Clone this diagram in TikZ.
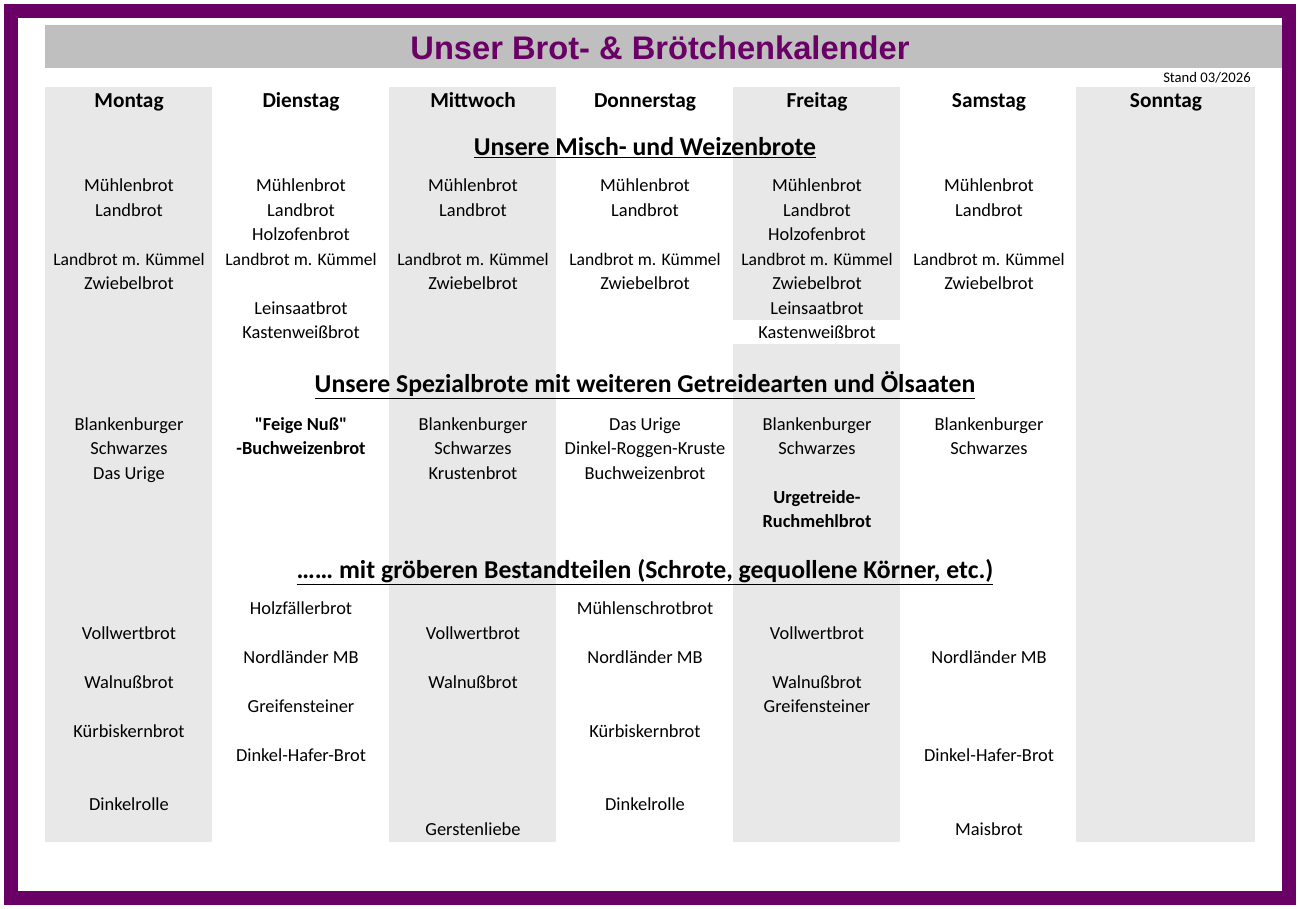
\documentclass[tikz,border=0pt]{standalone}
\usepackage{fontspec}
\setmainfont{Carlito}
\newfontfamily\titlefont{Liberation Sans}
\definecolor{frame}{HTML}{6A0066}
\definecolor{colgray}{HTML}{E8E8E8}
\definecolor{bargray}{HTML}{BFBFBF}
\tikzset{
 cell/.style={font=\fontsize{13.8}{16}\selectfont, inner sep=0pt, anchor=center, text height=0.72em, text depth=0.22em, yshift=-2.25pt},
 small/.style={cell, font=\fontsize{13.2}{15}\selectfont},
 bcell/.style={cell, font=\fontsize{13.8}{16}\selectfont\bfseries},
 day/.style={font=\fontsize{16}{19}\selectfont\bfseries, inner sep=0pt, text height=0.72em, text depth=0.22em, yshift=-2.25pt},
 sect/.style={font=\fontsize{19.3}{22}\selectfont\bfseries, inner sep=0pt, text height=0.72em, text depth=0.22em, yshift=-3pt}
}
\newcommand{\ul}[1]{\underline{#1}}
\begin{document}
\begin{tikzpicture}[x=0.75pt,y=-0.75pt]
\useasboundingbox (0,0) rectangle (1300,909);
\fill[white] (0,0) rectangle (1300,909);
\draw[frame, line width=10.5pt] (11,11) rectangle (1289,898);
% title bar
\fill[bargray] (45,25) rectangle (1282,68);
\node[font=\titlefont\fontsize{24.5}{28}\selectfont\bfseries, text=frame] (title) at (660,48) {Unser Brot- \& Brötchenkalender};
\node[font=\fontsize{11}{12}\selectfont, anchor=east, inner sep=0pt] (stand) at (1251,78) {Stand 03/2026};
% gray columns
\fill[colgray] (45,87) rectangle (212,842);
\fill[colgray] (389,87) rectangle (556,842);
\fill[colgray] (733,87) rectangle (900,320);
\fill[colgray] (733,344) rectangle (900,842);
\fill[colgray] (1076,87) rectangle (1255,842);
% days
\node[day] (d1) at (129,101) {Montag};
\node[day] (d2) at (301,101) {Dienstag};
\node[day] (d3) at (473,101) {Mittwoch};
\node[day] (d4) at (645,101) {Donnerstag};
\node[day] (d5) at (817,101) {Freitag};
\node[day] (d6) at (989,101) {Samstag};
\node[day] (d7) at (1166,101) {Sonntag};
% sections
\node[sect] (s1) at (645,148) {\ul{Unsere Misch- und Weizenbrote}};
\node[sect] (s2) at (645,385) {\ul{Unsere Spezialbrote mit weiteren Getreidearten und Ölsaaten}};
\node[sect] (s3) at (645,571) {\ul{\ldots\ldots\ mit gröberen Bestandteilen (Schrote, gequollene Körner, etc.)}};
% Montag
\node[cell] (m1) at (129,185) {Mühlenbrot};
\node[cell] (m2) at (129,210) {Landbrot};
\node[small] (m3) at (129,259) {Landbrot m. Kümmel};
\node[cell] (m4) at (129,283) {Zwiebelbrot};
\node[cell] (m5) at (129,424) {Blankenburger};
\node[cell] (m6) at (129,448) {Schwarzes};
\node[cell] (m7) at (129,473) {Das Urige};
\node[cell] (m8) at (129,633) {Vollwertbrot};
\node[cell] (m9) at (129,682) {Walnußbrot};
\node[cell] (m10) at (129,731) {Kürbiskernbrot};
\node[cell] (m11) at (129,804) {Dinkelrolle};
% Dienstag
\node[cell] (t1) at (301,185) {Mühlenbrot};
\node[cell] (t2) at (301,210) {Landbrot};
\node[cell] (t3) at (301,234) {Holzofenbrot};
\node[small] (t4) at (301,259) {Landbrot m. Kümmel};
\node[cell] (t5) at (301,308) {Leinsaatbrot};
\node[cell] (t6) at (301,332) {Kastenweißbrot};
\node[bcell] (t7) at (301,424) {\textquotedbl Feige Nuß\textquotedbl};
\node[bcell] (t8) at (301,448) {-Buchweizenbrot};
\node[cell] (t9) at (301,608) {Holzfällerbrot};
\node[cell] (t10) at (301,657) {Nordländer MB};
\node[cell] (t11) at (301,706) {Greifensteiner};
\node[cell] (t12) at (301,755) {Dinkel-Hafer-Brot};
% Mittwoch
\node[cell] (w1) at (473,185) {Mühlenbrot};
\node[cell] (w2) at (473,210) {Landbrot};
\node[small] (w3) at (473,259) {Landbrot m. Kümmel};
\node[cell] (w4) at (473,283) {Zwiebelbrot};
\node[cell] (w5) at (473,424) {Blankenburger};
\node[cell] (w6) at (473,448) {Schwarzes};
\node[cell] (w7) at (473,473) {Krustenbrot};
\node[cell] (w8) at (473,633) {Vollwertbrot};
\node[cell] (w9) at (473,682) {Walnußbrot};
\node[cell] (w10) at (473,829) {Gerstenliebe};
% Donnerstag
\node[cell] (o1) at (645,185) {Mühlenbrot};
\node[cell] (o2) at (645,210) {Landbrot};
\node[small] (o3) at (645,259) {Landbrot m. Kümmel};
\node[cell] (o4) at (645,283) {Zwiebelbrot};
\node[cell] (o5) at (645,424) {Das Urige};
\node[cell] (o6) at (645,448) {Dinkel-Roggen-Kruste};
\node[cell] (o7) at (645,473) {Buchweizenbrot};
\node[cell] (o8) at (645,608) {Mühlenschrotbrot};
\node[cell] (o9) at (645,657) {Nordländer MB};
\node[cell] (o10) at (645,731) {Kürbiskernbrot};
\node[cell] (o11) at (645,804) {Dinkelrolle};
% Freitag
\node[cell] (f1) at (817,185) {Mühlenbrot};
\node[cell] (f2) at (817,210) {Landbrot};
\node[cell] (f3) at (817,234) {Holzofenbrot};
\node[small] (f4) at (817,259) {Landbrot m. Kümmel};
\node[cell] (f5) at (817,283) {Zwiebelbrot};
\node[cell] (f6) at (817,308) {Leinsaatbrot};
\node[cell] (f7) at (817,332) {Kastenweißbrot};
\node[cell] (f8) at (817,424) {Blankenburger};
\node[cell] (f9) at (817,448) {Schwarzes};
\node[bcell] (f10) at (817,497) {Urgetreide-};
\node[bcell] (f11) at (817,521) {Ruchmehlbrot};
\node[cell] (f12) at (817,633) {Vollwertbrot};
\node[cell] (f13) at (817,682) {Walnußbrot};
\node[cell] (f14) at (817,706) {Greifensteiner};
% Samstag
\node[cell] (a1) at (989,185) {Mühlenbrot};
\node[cell] (a2) at (989,210) {Landbrot};
\node[small] (a3) at (989,259) {Landbrot m. Kümmel};
\node[cell] (a4) at (989,283) {Zwiebelbrot};
\node[cell] (a5) at (989,424) {Blankenburger};
\node[cell] (a6) at (989,448) {Schwarzes};
\node[cell] (a7) at (989,657) {Nordländer MB};
\node[cell] (a8) at (989,755) {Dinkel-Hafer-Brot};
\node[cell] (a9) at (989,829) {Maisbrot};
\end{tikzpicture}
\end{document}
